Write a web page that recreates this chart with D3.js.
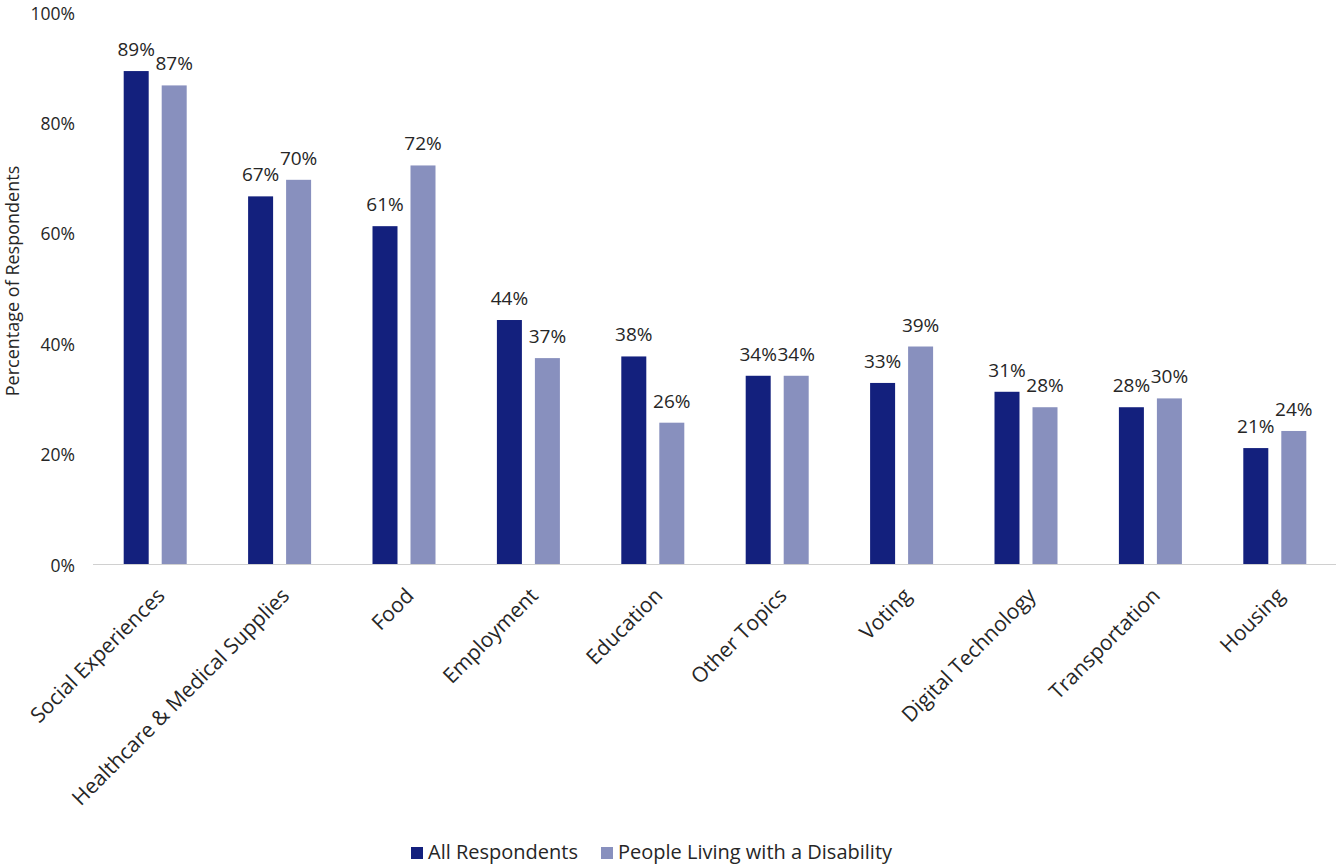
<!DOCTYPE html>
<html>
<head>
<meta charset="utf-8">
<script src="https://cdn.jsdelivr.net/npm/d3@7"></script>
<style>
  body { margin: 0; background: #fff; }
  text { font-family: "Open Sans", sans-serif; fill: #262626; }
</style>
</head>
<body>
<script>
var categories = ['Social Experiences', 'Healthcare & Medical Supplies', 'Food', 'Employment', 'Education',
  'Other Topics', 'Voting', 'Digital Technology', 'Transportation', 'Housing'];
var allRespondents = [89.3, 66.6, 61.2, 44.2, 37.6, 34.1, 32.8, 31.2, 28.4, 21.0];
var disability = [86.7, 69.6, 72.2, 37.3, 25.6, 34.1, 39.4, 28.4, 30.0, 24.1];
var seriesNames = ['All Respondents', 'People Living with a Disability'];
var colors = ['#13207d', '#8890be'];
var yTicks = [0, 20, 40, 60, 80, 100];

var width = 1336, height = 867;
var plotLeft = 93, plotRight = 1337, plotTop = 12, plotBottom = 564;

var svg = d3.select('body').append('svg')
  .attr('width', width)
  .attr('height', height);

var x = d3.scaleBand().domain(categories).range([plotLeft, plotRight]);
var y = d3.scaleLinear().domain([0, 100]).range([plotBottom, plotTop]);

var barW = 25, gap = 13;

var series = [allRespondents, disability];

// y tick labels
svg.append('g').selectAll('text').data(yTicks).enter().append('text')
  .attr('x', 75)
  .attr('y', function(d) { return y(d) + 7.5; })
  .attr('text-anchor', 'end')
  .style('font-size', '17.5px')
  .text(function(d) { return d + '%'; });

// y title
svg.append('text')
  .attr('transform', 'translate(19,281) rotate(-90)')
  .attr('text-anchor', 'middle')
  .style('font-size', '18px')
  .text('Percentage of Respondents');

// bars
series.forEach(function(vals, s) {
  var off = (x.bandwidth() - (2 * barW + gap)) / 2 + s * (barW + gap);
  svg.append('g').selectAll('rect').data(vals).enter().append('rect')
    .attr('x', function(d, i) { return x(categories[i]) + off; })
    .attr('y', function(d) { return y(d); })
    .attr('width', barW)
    .attr('height', function(d) { return y(0) - y(d); })
    .attr('fill', colors[s]);

  svg.append('g').selectAll('text').data(vals).enter().append('text')
    .attr('x', function(d, i) { return x(categories[i]) + off + barW / 2; })
    .attr('y', function(d) { return y(d) - 15; })
    .attr('text-anchor', 'middle')
    .style('font-size', '19px')
    .text(function(d) { return Math.round(d) + '%'; });
});

// x axis line
svg.append('line')
  .attr('x1', plotLeft).attr('x2', plotRight)
  .attr('y1', plotBottom + 0.5).attr('y2', plotBottom + 0.5)
  .attr('stroke', '#d0d0d0')
  .attr('stroke-width', 1);

// x labels
svg.append('g').selectAll('text').data(categories).enter().append('text')
  .attr('transform', function(d) {
    return 'translate(' + (x(d) + x.bandwidth() / 2 + 11) + ',' + (plotBottom + 33) + ') rotate(-45)';
  })
  .attr('text-anchor', 'end')
  .style('font-size', '21px')
  .text(function(d) { return d; });

// legend
var legendX = [411, 601];
seriesNames.forEach(function(name, s) {
  svg.append('rect')
    .attr('x', legendX[s]).attr('y', 847)
    .attr('width', 12).attr('height', 12)
    .attr('fill', colors[s]);
  svg.append('text')
    .attr('x', legendX[s] + 17).attr('y', 859)
    .style('font-size', '20px')
    .text(name);
});
</script>
</body>
</html>
